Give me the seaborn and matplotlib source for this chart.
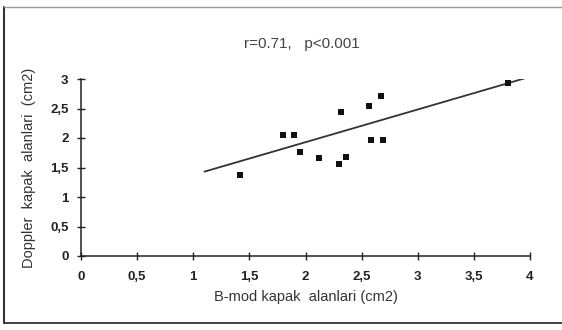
import matplotlib
matplotlib.use("Agg")
import matplotlib.pyplot as plt
from matplotlib.lines import Line2D
import seaborn as sns
import pandas as pd

# Data
bmod_area = [1.42, 1.80, 1.90, 1.95, 2.12, 2.30, 2.32, 2.36, 2.57, 2.67, 2.58, 2.69, 3.80]
doppler_area = [1.37, 2.05, 2.05, 1.76, 1.66, 1.56, 2.44, 1.68, 2.54, 2.71, 1.97, 1.97, 2.93]
fit_x = [1.10, 4.04]
fit_y = [1.43, 3.06]
x_ticks = [0, 0.5, 1, 1.5, 2, 2.5, 3, 3.5, 4]
x_tick_labels = ["0", "0,5", "1", "1,5", "2", "2,5", "3", "3,5", "4"]
y_ticks = [0, 0.5, 1, 1.5, 2, 2.5, 3]
y_tick_labels = ["0", "0,5", "1", "1,5", "2", "2,5", "3"]
title = "r=0.71,   p<0.001"
x_label = "B-mod kapak  alanlari (cm2)"
y_label = "Doppler  kapak  alanlari  (cm2)"

sns.set_theme(style="white")
plt.rcParams["font.family"] = ["Liberation Sans", "DejaVu Sans"]

df = pd.DataFrame({"x": bmod_area, "y": doppler_area})
fit_df = pd.DataFrame({"x": fit_x, "y": fit_y})

fig = plt.figure(figsize=(5.62, 3.30), dpi=100)
ax = fig.add_axes([81 / 562, 1 - 256 / 330, (530 - 81) / 562, (256 - 79) / 330])

sns.lineplot(data=fit_df, x="x", y="y", ax=ax, color="#333333", linewidth=1.3)
sns.scatterplot(data=df, x="x", y="y", ax=ax, marker="s", s=22, color="#111111",
                edgecolor="#111111", linewidth=0, zorder=3)

ax.set_xlim(0, 4)
ax.set_ylim(0, 3)
ax.set_xticks(x_ticks)
ax.set_xticklabels(x_tick_labels, fontweight="bold", fontsize=9.5)
ax.set_yticks(y_ticks)
ax.set_yticklabels(y_tick_labels, fontweight="bold", fontsize=9.5)
ax.tick_params(axis="both", direction="inout", length=6, width=1, color="#222222",
               labelcolor="#222222", bottom=True, left=True)
ax.tick_params(axis="x", pad=8)
ax.tick_params(axis="y", pad=6)
for side in ["top", "right"]:
    ax.spines[side].set_visible(False)
for side in ["left", "bottom"]:
    ax.spines[side].set_color("#222222")
    ax.spines[side].set_linewidth(1.1)
    ax.spines[side].set_clip_on(False)

ax.set_xlabel(x_label, fontsize=10.5, color="#333333", labelpad=5)
ax.set_ylabel(y_label, fontsize=10.5, color="#333333", labelpad=10)
fig.text(302 / 562, 1 - 44 / 330, title, ha="center", va="center", fontsize=11,
         color="#444444")

# scanned frame
fig.add_artist(Line2D([4 / 562, 4 / 562], [1 - 7 / 330, 1 - 323 / 330],
                      transform=fig.transFigure, color="#333333", linewidth=1.5))
fig.add_artist(Line2D([4 / 562, 1.0], [1 - 323 / 330, 1 - 323 / 330],
                      transform=fig.transFigure, color="#333333", linewidth=1.3))
fig.add_artist(Line2D([4 / 562, 1.0], [1 - 7 / 330, 1 - 7 / 330],
                      transform=fig.transFigure, color="#999999", linewidth=1.0))

fig.savefig("out.png", dpi=100)
